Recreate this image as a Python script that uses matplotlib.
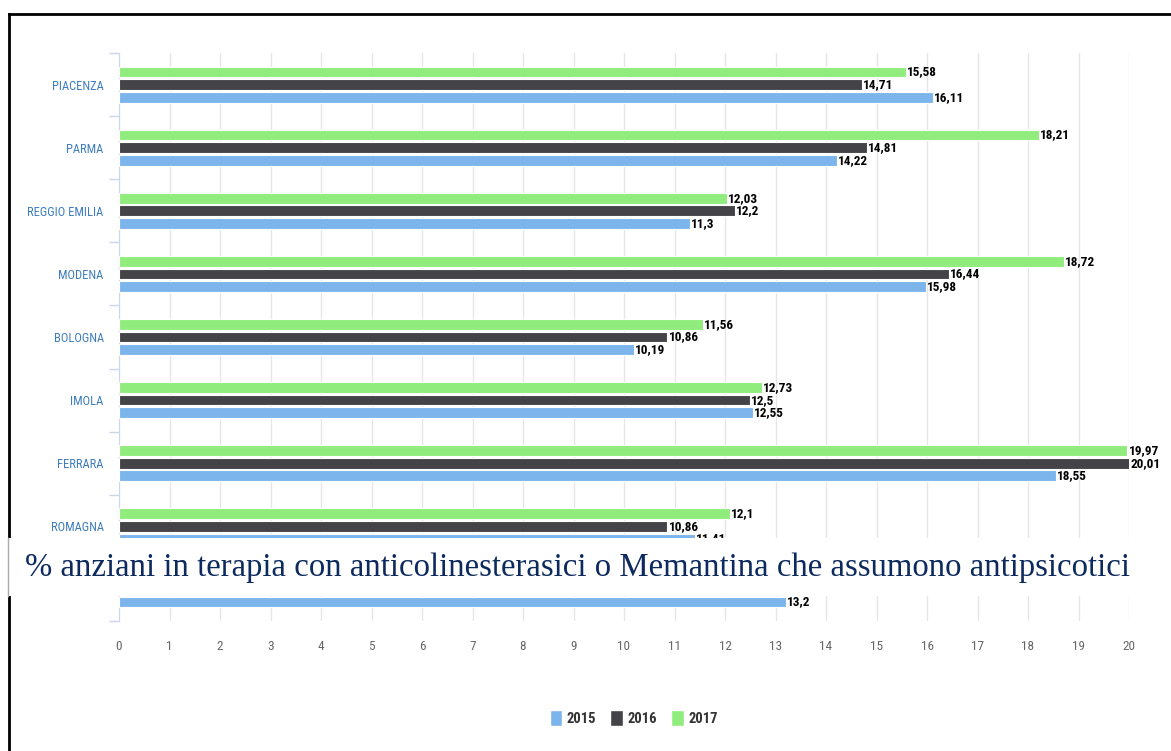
import matplotlib
matplotlib.use("Agg")
import matplotlib.pyplot as plt
import numpy as np
from matplotlib.patches import Rectangle, Patch
from matplotlib.lines import Line2D

# data
regions = ["PIACENZA", "PARMA", "REGGIO EMILIA", "MODENA", "BOLOGNA",
           "IMOLA", "FERRARA", "ROMAGNA", "EMILIA-ROMAGNA"]
v2015 = [16.11, 14.22, 11.30, 15.98, 10.19, 12.55, 18.55, 11.41, 13.20]
v2016 = [14.71, 14.81, 12.20, 16.44, 10.86, 12.50, 20.01, 10.86, 13.60]
v2017 = [15.58, 18.21, 12.03, 18.72, 11.56, 12.73, 19.97, 12.10, 13.90]
years = ["2015", "2016", "2017"]
xticks = list(range(0, 21))

c2015, c2016, c2017 = "#7cb5ec", "#434348", "#90ed7d"
narrow = ["Liberation Sans Narrow", "Roboto Condensed", "DejaVu Sans"]

fig = plt.figure(figsize=(11.71, 7.51), dpi=100)
ax = fig.add_axes([119 / 1171, 1 - 621 / 751, 1010 / 1171, 568 / 751])

y = np.arange(len(regions))
h = 0.17
off = 0.2
series = [(v2017, c2017, -off), (v2016, c2016, 0.0), (v2015, c2015, off)]
for vals, col, dy in series:
    ax.barh(y + dy, vals, height=h, color=col, edgecolor="white", linewidth=0.8, zorder=3)
    for yi, v in zip(y, vals):
        ax.text(v + 0.02, yi + dy, f"{v:g}".replace(".", ","), va="center", ha="left",
                fontsize=9.5, fontweight="bold", family=narrow, fontstretch="condensed",
                color="black", zorder=4)

ax.set_xlim(0, 20)
ax.set_ylim(len(regions) - 0.5, -0.5)
ax.set_xticks(xticks)
ax.set_xticklabels([str(t) for t in xticks], family=narrow, fontstretch="condensed",
                   fontsize=9.5, color="#666666")
ax.tick_params(axis="x", length=0, pad=14)
ax.set_yticks(y)
ax.set_yticklabels(regions, family=narrow, fontstretch="condensed", fontsize=9,
                   color="#3d7dc0")
ax.tick_params(axis="y", which="major", length=0, pad=11)
ax.set_yticks(np.arange(-0.5, len(regions)), minor=True)
ax.tick_params(axis="y", which="minor", length=7, color="#ccd6eb", width=1)
ax.grid(axis="x", color="#e6e6e6", linewidth=1, zorder=0)
for s in ["top", "right", "bottom"]:
    ax.spines[s].set_visible(False)
ax.spines["left"].set_color("#ccd6eb")

handles = [Patch(facecolor=c, edgecolor="white") for c in (c2015, c2016, c2017)]
leg = fig.legend(handles, years, loc="center", bbox_to_anchor=(0.541, 1 - 718 / 751),
                 ncol=3, frameon=False, handlelength=0.85, handleheight=1.4,
                 handletextpad=0.3, columnspacing=1.0,
                 prop={"family": narrow, "size": 10.5, "weight": "bold",
                       "stretch": "condensed"})
for t in leg.get_texts():
    t.set_color("#333333")

# page border (top and left only visible)
fig.add_artist(Line2D([9 / 1171, 1], [1 - 14 / 751, 1 - 14 / 751], color="black", lw=2,
                      transform=fig.transFigure))
fig.add_artist(Line2D([9 / 1171, 9 / 1171], [0, 1 - 14 / 751], color="black", lw=2,
                      transform=fig.transFigure))

# title box overlaid on the chart
fig.add_artist(Rectangle((8 / 1171, 1 - 596 / 751), 1, 58 / 751, facecolor="white",
                         edgecolor="none", transform=fig.transFigure, zorder=10))
fig.add_artist(Line2D([8 / 1171, 8 / 1171], [1 - 596 / 751, 1 - 538 / 751], color="#aaaaaa",
                      lw=1, transform=fig.transFigure, zorder=11))
fig.text(25 / 1171, 1 - 568 / 751,
         "% anziani in terapia con anticolinesterasici o Memantina che assumono antipsicotici",
         family="Liberation Serif", fontsize=23.6, color="#0d2a5e", va="center", ha="left",
         zorder=12)

fig.savefig("out.png", dpi=100)
